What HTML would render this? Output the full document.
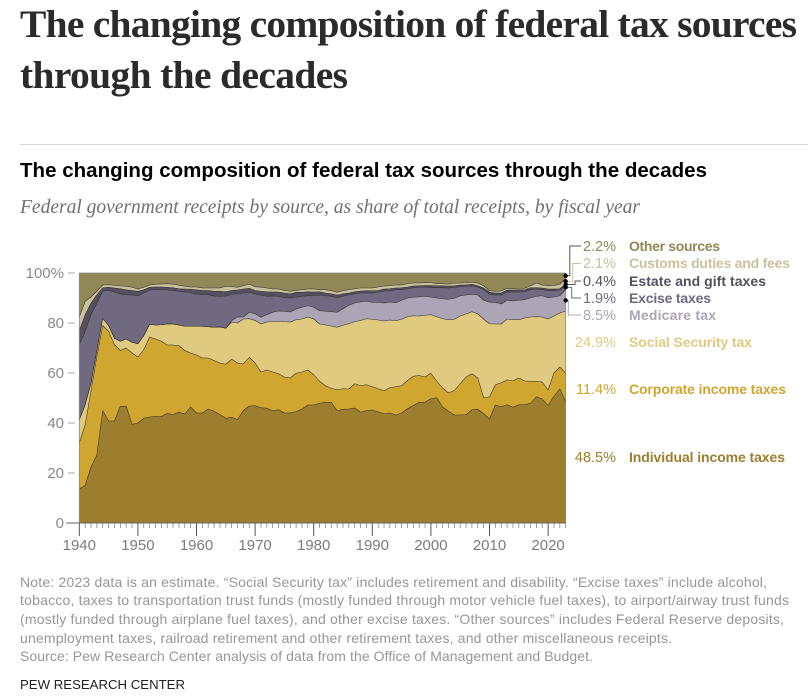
<!DOCTYPE html>
<html lang="en">
<head>
<meta charset="utf-8">
<title>The changing composition of federal tax sources through the decades</title>
<style>
html,body{margin:0;padding:0;background:#fff;width:808px;height:700px;overflow:hidden}
svg{display:block;position:absolute;left:0;top:0}
text{font-family:"Liberation Sans",sans-serif}
.serif{font-family:"Liberation Serif",serif}
.note{font-size:14px;fill:#969696}
.pct{font-size:14.5px;text-anchor:end}
.name{font-size:14px;font-weight:bold}
</style>
</head>
<body>
<svg id="page" width="808" height="700" viewBox="0 0 808 700">
  <text class="serif" x="20" y="37" font-size="39.5" font-weight="bold" fill="#2b2b2b" textLength="777" lengthAdjust="spacing">The changing composition of federal tax sources</text>
  <text class="serif" x="20" y="88" font-size="39.5" font-weight="bold" fill="#2b2b2b" textLength="328" lengthAdjust="spacing">through the decades</text>
  <line x1="20" x2="808" y1="144.5" y2="144.5" stroke="#d8d8d8" stroke-width="1"/>
  <text x="20" y="177" font-size="20.5" font-weight="bold" fill="#000" textLength="687" lengthAdjust="spacing">The changing composition of federal tax sources through the decades</text>
  <text class="serif" x="20" y="213" font-size="19.5" font-style="italic" fill="#707070" textLength="620" lengthAdjust="spacing">Federal government receipts by source, as share of total receipts, by fiscal year</text>

  <g id="plot"></g>
  <g id="axes"></g>
  <g id="leaders"></g>

  <g>
    <g>
      <text class="pct" x="616" y="251" fill="#918857">2.2%</text>
      <text class="name" x="629" y="251" fill="#918857" textLength="91" lengthAdjust="spacing">Other sources</text>
    </g>
    <g>
      <text class="pct" x="616" y="268" fill="#c9c29d">2.1%</text>
      <text class="name" x="629" y="268" fill="#c9c29d" textLength="161" lengthAdjust="spacing">Customs duties and fees</text>
    </g>
    <g>
      <text class="pct" x="616" y="286" fill="#55505f">0.4%</text>
      <text class="name" x="629" y="286" fill="#55505f" textLength="137" lengthAdjust="spacing">Estate and gift taxes</text>
    </g>
    <g>
      <text class="pct" x="616" y="303" fill="#706a80">1.9%</text>
      <text class="name" x="629" y="303" fill="#706a80" textLength="82" lengthAdjust="spacing">Excise taxes</text>
    </g>
    <g>
      <text class="pct" x="616" y="320" fill="#aba5b5">8.5%</text>
      <text class="name" x="629" y="320" fill="#aba5b5" textLength="87" lengthAdjust="spacing">Medicare tax</text>
    </g>
    <g>
      <text class="pct" x="616" y="347" fill="#e0ca80">24.9%</text>
      <text class="name" x="629" y="347" fill="#e0ca80" textLength="123" lengthAdjust="spacing">Social Security tax</text>
    </g>
    <g>
      <text class="pct" x="616" y="394" fill="#cfa630">11.4%</text>
      <text class="name" x="629" y="394" fill="#cfa630" textLength="157" lengthAdjust="spacing">Corporate income taxes</text>
    </g>
    <g>
      <text class="pct" x="616" y="462" fill="#9c7e2e">48.5%</text>
      <text class="name" x="629" y="462" fill="#9c7e2e" textLength="156" lengthAdjust="spacing">Individual income taxes</text>
    </g>
  </g>

  <g>
    <text class="note" x="20" y="587" textLength="747" lengthAdjust="spacing">Note: 2023 data is an estimate. “Social Security tax” includes retirement and disability. “Excise taxes” include alcohol,</text>
    <text class="note" x="20" y="605" textLength="769" lengthAdjust="spacing">tobacco, taxes to transportation trust funds (mostly funded through motor vehicle fuel taxes), to airport/airway trust funds</text>
    <text class="note" x="20" y="624" textLength="764" lengthAdjust="spacing">(mostly funded through airplane fuel taxes), and other excise taxes. “Other sources” includes Federal Reserve deposits,</text>
    <text class="note" x="20" y="643" textLength="652" lengthAdjust="spacing">unemployment taxes, railroad retirement and other retirement taxes, and other miscellaneous receipts.</text>
    <text class="note" x="20" y="661" textLength="573" lengthAdjust="spacing">Source: Pew Research Center analysis of data from the Office of Management and Budget.</text>
    <text x="20" y="689" font-size="13.2" fill="#222" textLength="165" lengthAdjust="spacing">PEW RESEARCH CENTER</text>
  </g>
</svg>

<script>
const firstYear = 1940;
const yTickValues = [0, 20, 40, 60, 80, 100];
const yTickLabels = ["0", "20", "40", "60", "80", "100%"];
const xTickLabels = [1940, 1950, 1960, 1970, 1980, 1990, 2000, 2010, 2020];

// Cumulative upper edge of each stacked band, % of receipts, fiscal years 1940-2023
const cumIndividual = [
13.6,15,22.4,27.2,45,40.8,40.8,46.7,46.7,39.5,
40,41.9,42.4,42.7,42.5,43.9,43.3,44.4,43.6,46.4,
44,44,45.6,44.7,43.3,41.9,42.3,41.3,45,46.8,
46.9,46.1,45.9,44.9,45.3,44,44,44.5,45.6,47.2,
47.2,47.9,48.3,48.3,44.9,45.5,45.6,46,44.3,45,
45.2,44.4,43.7,44,43.2,44,45.7,47,48.3,48.3,
49.7,50.1,46.4,44.7,43.2,43.2,43.3,45.3,45.5,43.7,
41.6,47.2,46.5,47.3,46.3,47.3,47.3,47.9,50.5,49.6,
47,50.7,53.7,48.5];
const cumCorporate = [
32,39.3,53,66.7,79,76.7,71.3,69,70,68,
66.4,69.3,74.4,73.6,72.7,71.2,71.2,70.9,69,68,
67.2,66,66,65,64,63.5,65.5,64,63.6,66.3,
64,60.4,61.2,60.4,59.7,58.4,58,59.9,60.4,61.2,
59.3,56.7,54.9,53.9,53.3,53.7,53.6,55.7,54.9,55.3,
54.5,53.7,52.9,54.1,54.5,54.9,57,58.7,59,58.4,
59.9,56.7,54,52,53,55.7,58.4,59.7,58,50.1,
50.4,55.3,56.1,57.2,56.9,58,56.8,56.7,56.7,56.4,
53.2,60,62.4,59.9];
const cumSocial = [
41.3,47.3,56,69,81.9,78.9,73.9,72.7,73.6,72.3,
71.7,74.9,79.5,79.2,79.3,79.6,79.6,79.2,78.7,78.7,
78.7,78.7,78.5,78.3,78.4,77.9,80.4,80,81.6,81.7,
81,79.6,80.4,80.5,80.7,80.5,80.4,81.3,81.6,82.4,
81.6,79.6,79.2,78.8,78.3,79.1,79.7,80.5,81,81.7,
81.5,81.2,80.8,81.2,80.9,81.5,82.5,82.9,82.8,83.1,
83.3,82.5,81.7,81.3,81.5,82.8,83.6,84.5,83.7,81.5,
79.7,79.6,79.6,81.6,81.3,81.3,82,82.4,82.5,82.4,
81.6,82.8,84,84.8];
const cumMedicare = [
41.3,47.3,56,69,81.9,78.9,73.9,72.7,73.6,72.3,
71.7,74.9,79.5,79.2,79.3,79.6,79.6,79.2,78.7,78.7,
78.7,78.7,78.5,78.3,78.4,77.9,81,82.4,82.4,84.3,
83.7,82.3,83.3,84.3,84.8,84.7,84.4,85.6,86.3,86.9,
86.3,84.9,84.7,84.5,84.3,85.7,87.1,88,88.5,88.7,
88.3,88.3,88,88.4,88.1,89.1,90,90.3,90.5,90.7,
90.4,90,89.7,89.5,89.9,90.9,91.2,91.5,91.2,89.1,
88.3,88.3,87.6,89.1,88.8,89.1,89.3,90.1,90.7,90.9,
90.1,90.4,90.9,93.3];
const cumExcise = [
71.3,76.7,83.3,88,92.8,93,92.4,91.6,91.3,91.2,
90.9,92,93.2,93.3,93.3,93.2,93,92.7,92.4,92.1,
91.5,91.3,91.3,90.8,90.7,90.8,91.5,91.7,92,92.3,
91.6,91.1,90.7,90.8,90.7,90.1,90,90.3,90.7,90.9,
91,91.2,90.9,90.7,90.1,90.7,91.3,91.7,92,92,
91.9,92.4,92.8,92.9,93.3,93.3,93.7,94.1,94.3,94.4,
94.1,94.1,94.1,94,94.3,94.5,94.7,94.8,94.4,93.3,
91.5,91.2,91.2,92.5,92.4,92.4,92.5,93.3,93.6,93.3,
92.9,92.9,93.2,95.2];
const cumEstate = [
77,83.3,88,91.3,94.1,94.3,94,93.7,93.3,93,
92.7,93.3,94.3,94.4,94.4,94.3,94.1,93.7,93.6,93.5,
93.3,93,93,92.7,92.7,92.5,93,93.2,93.6,93.9,
93,92.7,92.5,92.4,92.4,92,91.7,92.3,92.3,92.5,
92.4,92.5,92,91.7,91.2,91.7,92,92.5,92.8,92.9,
92.9,93,93.6,93.7,94,94.1,94.4,94.8,94.9,95,
95,94.9,94.9,94.8,94.9,95.2,95.3,95.5,94.9,94,
92.3,92,92,93.2,93.2,93.3,93.3,94.1,94.1,94,
93.6,93.6,93.7,95.6];
const cumCustoms = [
82.4,88.7,90.4,92.7,95.2,95.3,95.1,94.8,94.7,94.3,
93.6,94.3,95.2,95.5,95.6,95.7,95.5,95.1,94.7,94.4,
94.4,94,94,94,94,94.7,94.5,94.3,94.9,95.5,
94.5,94.3,94,93.6,93.6,93,92.7,93,93.3,93.6,
93.6,93.3,93.3,92.9,92.3,92.9,93.3,93.7,94,94,
94,94.4,94.8,94.9,95.2,95.2,95.7,96,96,96.1,
96.1,95.7,95.7,95.6,95.9,96,96.1,96.3,96,94.9,
92.9,92.7,92.8,93.9,93.7,93.9,93.9,94.9,96,95.2,
94.9,95,95.5,97.8];
const cumOther = [
100,100,100,100,100,100,100,100,100,100,
100,100,100,100,100,100,100,100,100,100,
100,100,100,100,100,100,100,100,100,100,
100,100,100,100,100,100,100,100,100,100,
100,100,100,100,100,100,100,100,100,100,
100,100,100,100,100,100,100,100,100,100,
100,100,100,100,100,100,100,100,100,100,
100,100,100,100,100,100,100,100,100,100,
100,100,100,100];

const bandOrder = [
  ["individual", cumIndividual, "#9c7e2e"],
  ["corporate", cumCorporate, "#cfa630"],
  ["social-security", cumSocial, "#e0ca80"],
  ["medicare", cumMedicare, "#aba5b5"],
  ["excise", cumExcise, "#706a80"],
  ["estate-gift", cumEstate, "#55505f"],
  ["customs", cumCustoms, "#c9c29d"],
  ["other", cumOther, "#918857"]
];

const NS = "http://www.w3.org/2000/svg";
const xScale = yr => 79.3 + (yr - 1940) * 5.86;
const yScale = v => 523 - 2.5 * v;
const lastIndex = cumOther.length - 1;
const lastYear = firstYear + lastIndex;

function make(tag, attrs, parent) {
  const el = document.createElementNS(NS, tag);
  for (const k in attrs) el.setAttribute(k, attrs[k]);
  parent.appendChild(el);
  return el;
}

const plot = document.getElementById("plot");
const axes = document.getElementById("axes");
const leaders = document.getElementById("leaders");

// Stacked bands
bandOrder.forEach((band, i) => {
  const top = band[1];
  const below = i > 0 ? bandOrder[i - 1][1] : null;
  const upper = top.map((v, k) => xScale(firstYear + k).toFixed(2) + "," + yScale(v).toFixed(2));
  const lower = top.map((v, k) => xScale(firstYear + k).toFixed(2) + "," + yScale(below ? below[k] : 0).toFixed(2)).reverse();
  const area = make("path", {d: "M" + upper.join("L") + "L" + lower.join("L") + "Z", fill: band[2]}, plot);
  
  
});
bandOrder.slice(0, -1).forEach(band => {
  const pts = band[1].map((v, k) => xScale(firstYear + k).toFixed(2) + "," + yScale(v).toFixed(2));
  const edge = make("path", {d: "M" + pts.join("L"), fill: "none", stroke: "#2f2c28", "stroke-width": 0.55, "stroke-linejoin": "round"}, plot);
  
  
});

// Plot frame (top, left and right edges)
const frame = make("path", {
  d: "M" + xScale(firstYear) + "," + yScale(0) + "V" + yScale(100) + "H" + xScale(lastYear) + "V" + yScale(0),
  fill: "none", stroke: "#8a8a8a", "stroke-width": 0.8
}, plot);



// Y axis
yTickValues.forEach((v, i) => {
  const tick = make("line", {
    x1: v === 0 ? 66 : 68, x2: v === 0 ? xScale(lastYear) : 75,
    y1: yScale(v), y2: yScale(v),
    stroke: v === 0 ? "#666" : "#aaa", "stroke-width": 1
  }, axes);
  
  
  const label = make("text", {x: 64, y: yScale(v) + 5, "text-anchor": "end", "font-size": 15, fill: "#8a8a8a"}, axes);
  label.textContent = yTickLabels[i];
  
  
});

// X axis: a tick for every year, a longer tick for each labelled decade
for (let k = 0; k <= lastIndex; k++) {
  const yr = firstYear + k;
  const major = xTickLabels.includes(yr);
  const tick = make("line", {
    x1: xScale(yr), x2: xScale(yr), y1: yScale(0), y2: major ? 536 : 528,
    stroke: major ? "#555" : "#777", "stroke-width": major ? 1 : 0.7
  }, axes);
  
  
}
xTickLabels.forEach(yr => {
  const label = make("text", {x: xScale(yr), y: 550, "text-anchor": "middle", "font-size": 15, fill: "#7c7c7c"}, axes);
  label.textContent = yr;
  
  
});

// Leader lines from end-of-series midpoints to the value labels
const leaderRows = [
  ["other", cumCustoms, cumOther, 246, 569.8, "#555"],
  ["customs", cumEstate, cumCustoms, 263.5, 572.7, "#c9c29d"],
  ["estate-gift", cumExcise, cumEstate, 281, 575, "#555"],
  ["excise", cumMedicare, cumExcise, 298, 571.7, "#706a80"],
  ["medicare", cumSocial, cumMedicare, 315, 568.3, "#aba5b5"]
];
leaderRows.forEach(row => {
  const mid = (row[1][lastIndex] + row[2][lastIndex]) / 2;
  const dotX = xScale(lastYear);
  const dotY = yScale(mid);
  const line = make("polyline", {
    points: dotX + "," + dotY + " " + row[4] + "," + dotY + " " + row[4] + "," + row[3] + " 581," + row[3],
    fill: "none", stroke: row[5], "stroke-width": 1
  }, leaders);
  
  
  const dot = make("circle", {cx: dotX, cy: dotY, r: 2.2, fill: "#000"}, leaders);
  
  
});
</script>
</body>
</html>
